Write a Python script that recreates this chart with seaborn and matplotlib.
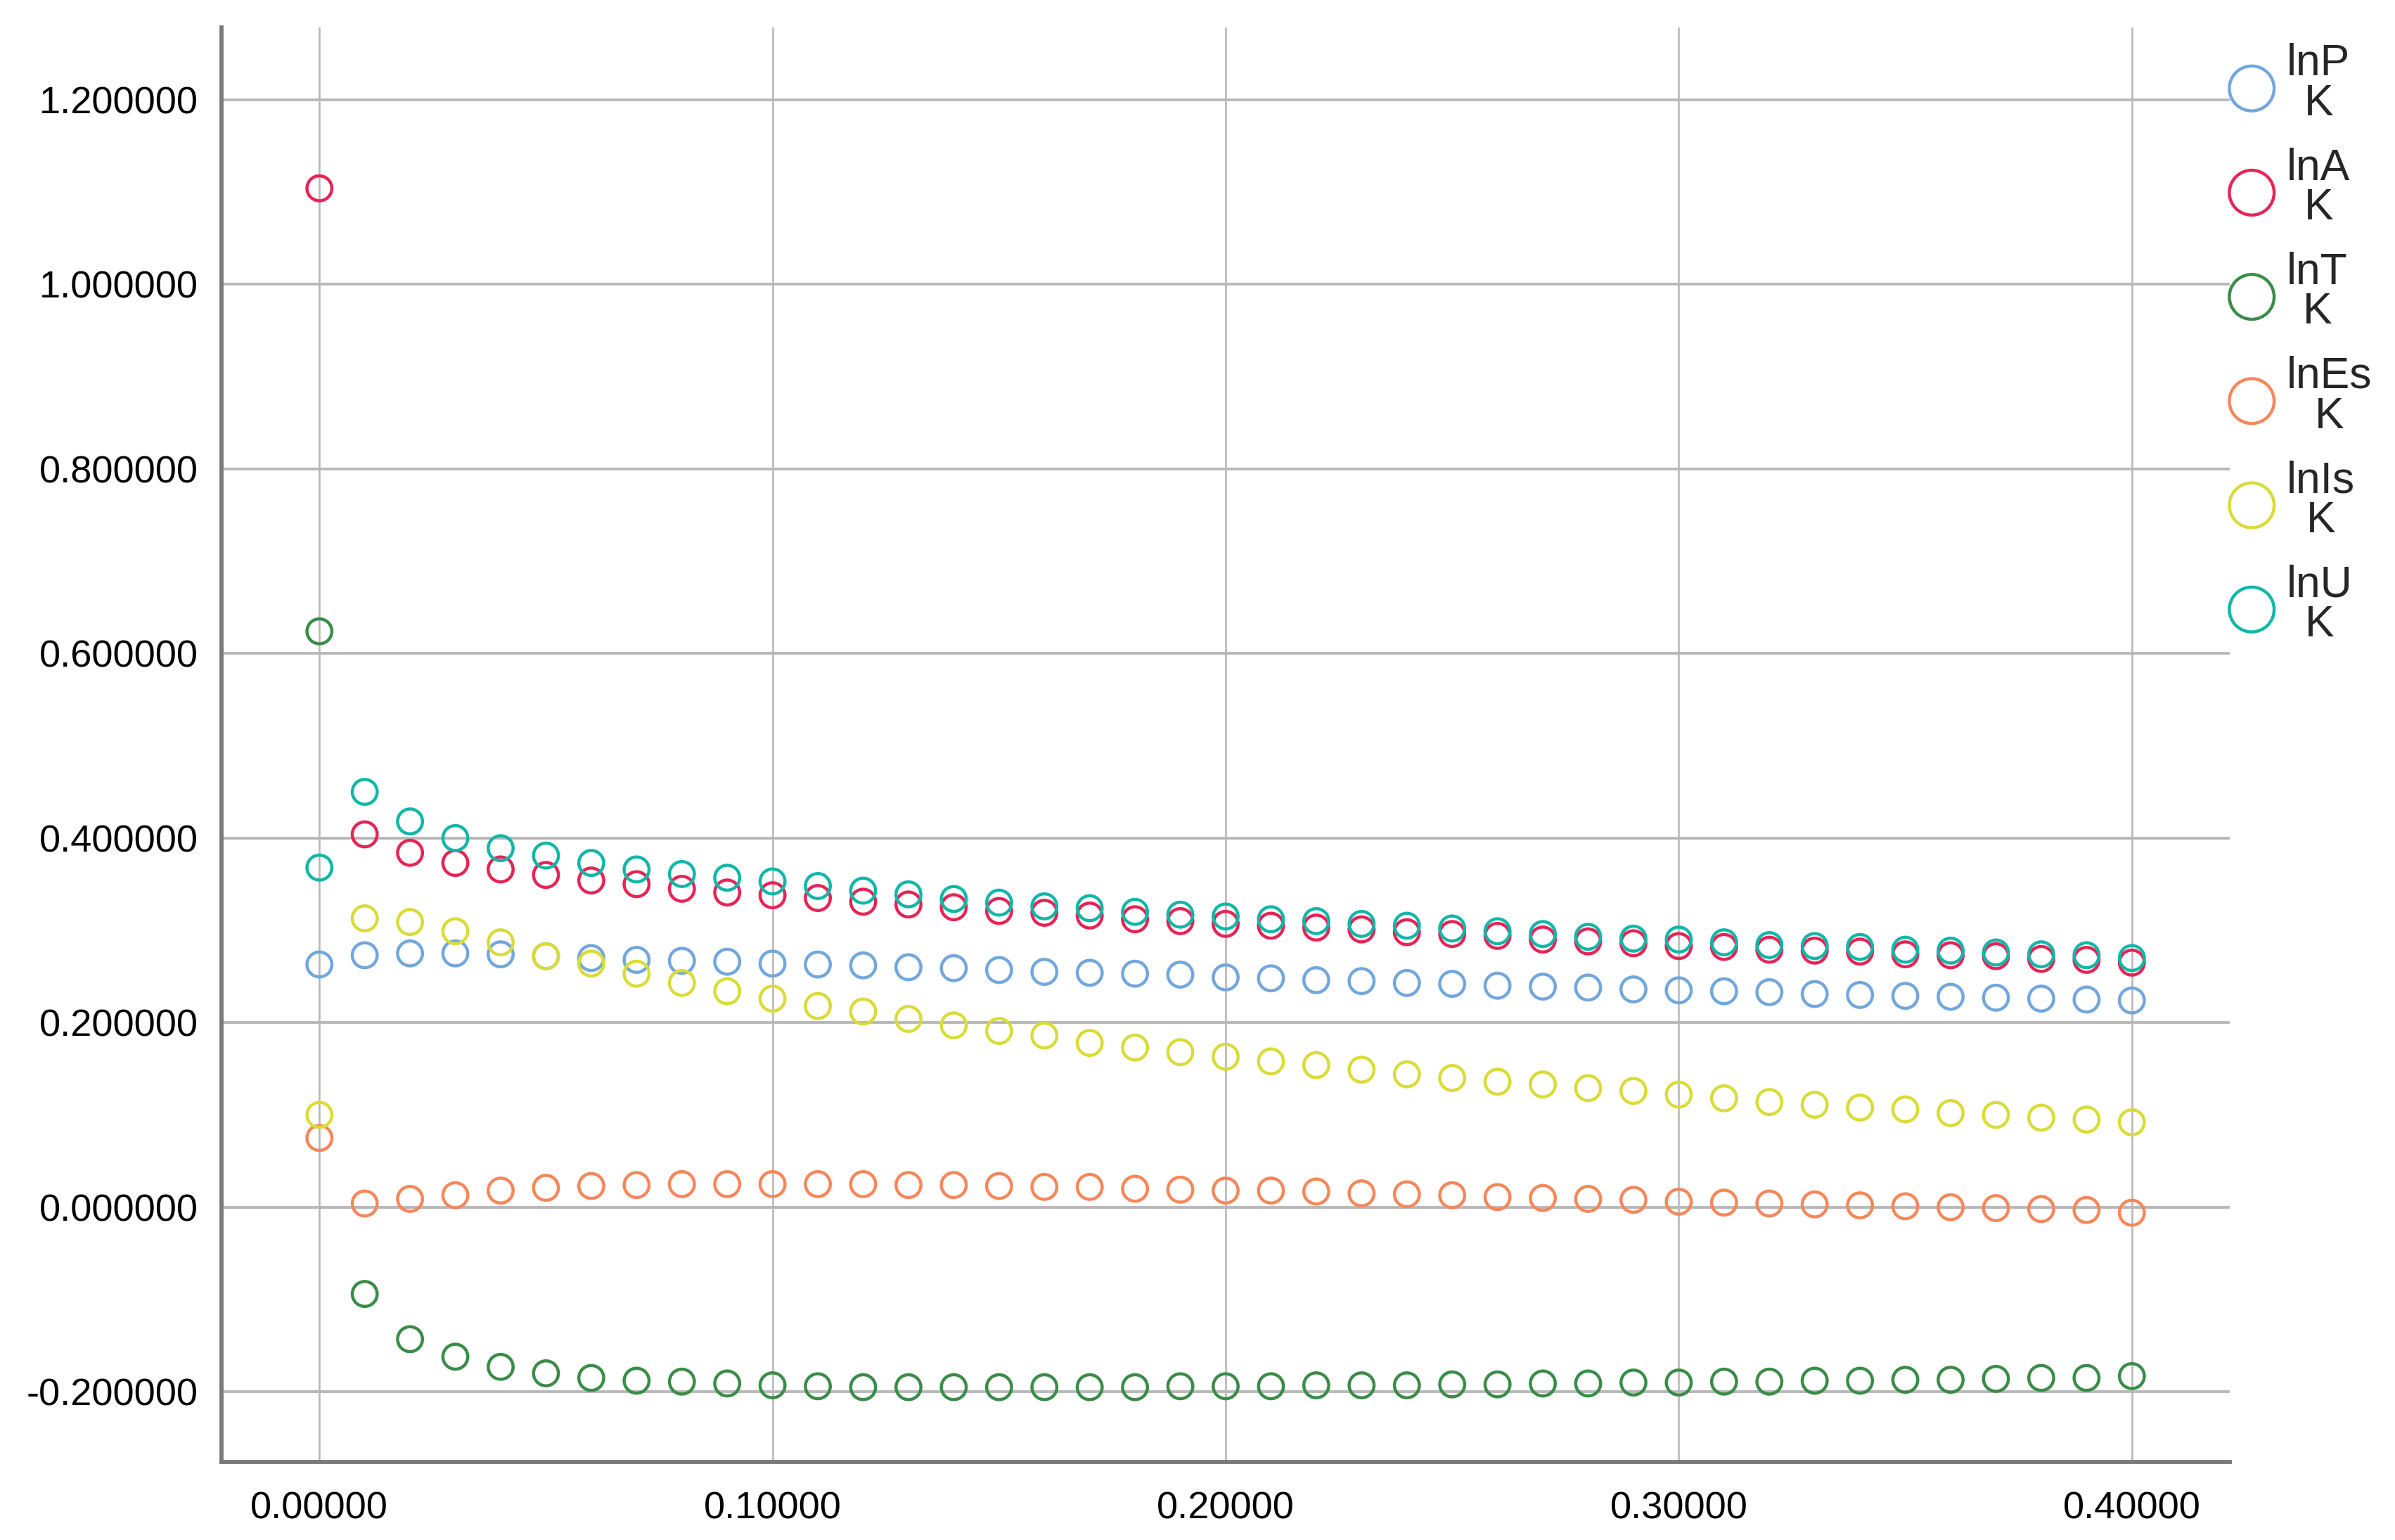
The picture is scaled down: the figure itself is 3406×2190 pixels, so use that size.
"""
lnK 系列随 K 变化的散点图（SPSS 风格复刻）
"""
import matplotlib
matplotlib.use("Agg")
import matplotlib.pyplot as plt
import matplotlib.ticker as mticker
import pandas as pd
import seaborn as sns

K = [0.00, 0.01, 0.02, 0.03, 0.04, 0.05, 0.06, 0.07, 0.08, 0.09,
     0.10, 0.11, 0.12, 0.13, 0.14, 0.15, 0.16, 0.17, 0.18, 0.19,
     0.20, 0.21, 0.22, 0.23, 0.24, 0.25, 0.26, 0.27, 0.28, 0.29,
     0.30, 0.31, 0.32, 0.33, 0.34, 0.35, 0.36, 0.37, 0.38, 0.39, 0.40]

lnPK = [0.263, 0.273, 0.275, 0.275, 0.274, 0.272, 0.270, 0.268, 0.267, 0.266,
        0.264, 0.263, 0.262, 0.260, 0.259, 0.257, 0.255, 0.254, 0.253, 0.252,
        0.249, 0.248, 0.246, 0.245, 0.243, 0.242, 0.240, 0.239, 0.238, 0.236,
        0.235, 0.234, 0.233, 0.231, 0.230, 0.229, 0.228, 0.227, 0.226, 0.225, 0.224]

lnAK = [1.104, 0.404, 0.384, 0.373, 0.366, 0.360, 0.354, 0.350, 0.345, 0.341,
        0.338, 0.335, 0.331, 0.328, 0.325, 0.321, 0.319, 0.316, 0.312, 0.310,
        0.307, 0.305, 0.303, 0.301, 0.298, 0.296, 0.294, 0.290, 0.288, 0.286,
        0.283, 0.282, 0.279, 0.278, 0.277, 0.274, 0.273, 0.272, 0.269, 0.268, 0.265]

lnTK = [0.624, -0.094, -0.143, -0.162, -0.173, -0.180, -0.185, -0.188, -0.189, -0.191,
        -0.193, -0.194, -0.195, -0.195, -0.195, -0.195, -0.195, -0.195, -0.195, -0.194,
        -0.194, -0.194, -0.193, -0.193, -0.193, -0.192, -0.192, -0.191, -0.191, -0.190,
        -0.190, -0.189, -0.189, -0.188, -0.188, -0.187, -0.187, -0.186, -0.185, -0.185, -0.183]

lnEsK = [0.075, 0.004, 0.009, 0.013, 0.018, 0.021, 0.023, 0.024, 0.025, 0.025,
         0.025, 0.025, 0.025, 0.024, 0.024, 0.023, 0.022, 0.022, 0.020, 0.019,
         0.018, 0.018, 0.017, 0.015, 0.014, 0.013, 0.011, 0.010, 0.009, 0.008,
         0.006, 0.005, 0.004, 0.003, 0.002, 0.001, 0.000, -0.001, -0.002, -0.003, -0.006]

lnIsK = [0.100, 0.313, 0.309, 0.299, 0.287, 0.272, 0.264, 0.253, 0.243, 0.234,
         0.226, 0.218, 0.212, 0.204, 0.197, 0.191, 0.186, 0.178, 0.173, 0.168,
         0.163, 0.158, 0.154, 0.149, 0.144, 0.140, 0.136, 0.133, 0.129, 0.126,
         0.122, 0.118, 0.114, 0.111, 0.108, 0.106, 0.102, 0.100, 0.097, 0.095, 0.092]

lnUK = [0.368, 0.450, 0.418, 0.400, 0.389, 0.381, 0.373, 0.366, 0.361, 0.357,
        0.353, 0.348, 0.343, 0.339, 0.334, 0.330, 0.326, 0.324, 0.320, 0.317,
        0.315, 0.312, 0.310, 0.307, 0.305, 0.302, 0.299, 0.296, 0.293, 0.291,
        0.290, 0.287, 0.284, 0.283, 0.282, 0.279, 0.278, 0.276, 0.274, 0.273, 0.270]

SERIES = ["lnPK", "lnAK", "lnTK", "lnEsK", "lnIsK", "lnUK"]
LEGEND_LABELS = ["lnP\nK", "lnA\nK", "lnT\nK", "lnEs\nK", "lnIs\nK", "lnU\nK"]
COLORS = ["#72a7dd", "#e62456", "#3a8c48", "#f6875a", "#d9dc36", "#10b7a8"]

df = pd.DataFrame({"K": K, "lnPK": lnPK, "lnAK": lnAK, "lnTK": lnTK,
                   "lnEsK": lnEsK, "lnIsK": lnIsK, "lnUK": lnUK})
long = df.melt(id_vars="K", var_name="series", value_name="value")

sns.set_theme(style="white")
plt.rcParams["font.family"] = ["Liberation Sans", "DejaVu Sans"]
plt.rcParams["axes.unicode_minus"] = False

fig = plt.figure(figsize=(34.06, 21.90), dpi=100)
ax = fig.add_axes([0.0925, 0.0507, 0.931 - 0.0925, 0.982 - 0.0507])

for name, label, color in zip(SERIES, LEGEND_LABELS, COLORS):
    sub = long[long["series"] == name]
    sns.scatterplot(data=sub, x="K", y="value", ax=ax, color=color,
                    facecolors="none", edgecolor=color, s=650, linewidth=3.2,
                    label=label)

ax.set_xlim(-0.0216, 0.4216)
ax.set_ylim(-0.276, 1.278)
ax.xaxis.set_major_locator(mticker.MultipleLocator(0.1))
ax.yaxis.set_major_locator(mticker.MultipleLocator(0.2))
ax.xaxis.set_major_formatter(mticker.FormatStrFormatter("%.5f"))
ax.yaxis.set_major_formatter(mticker.FormatStrFormatter("%.6f"))
ax.tick_params(axis="both", length=0, labelsize=39, colors="#000000")
ax.tick_params(axis="y", pad=24)
ax.tick_params(axis="x", pad=30)
ax.set_xlabel("")
ax.set_ylabel("")

ax.grid(False)
ax.yaxis.grid(True, color="#b8b8b8", linewidth=2.8)
ax.xaxis.grid(True, color="#b4b4b4", linewidth=1.8)
ax.set_axisbelow(True)

for side in ["top", "right"]:
    ax.spines[side].set_visible(False)
for side in ["left", "bottom"]:
    ax.spines[side].set_color("#7a7a7a")
    ax.spines[side].set_linewidth(4.2)

ax.get_legend().remove()
handles, labels = ax.get_legend_handles_labels()
leg = fig.legend(handles, labels, loc="upper left", bbox_to_anchor=(0.931, 0.972),
                 frameon=False, fontsize=45, markerscale=1.8, handlelength=1.0,
                 handletextpad=0.3, labelspacing=0.52, borderpad=0, borderaxespad=0)
for t in leg.get_texts():
    t.set_multialignment("center")
    t.set_linespacing(0.95)

fig.savefig("out.png", dpi=100, facecolor="white")
